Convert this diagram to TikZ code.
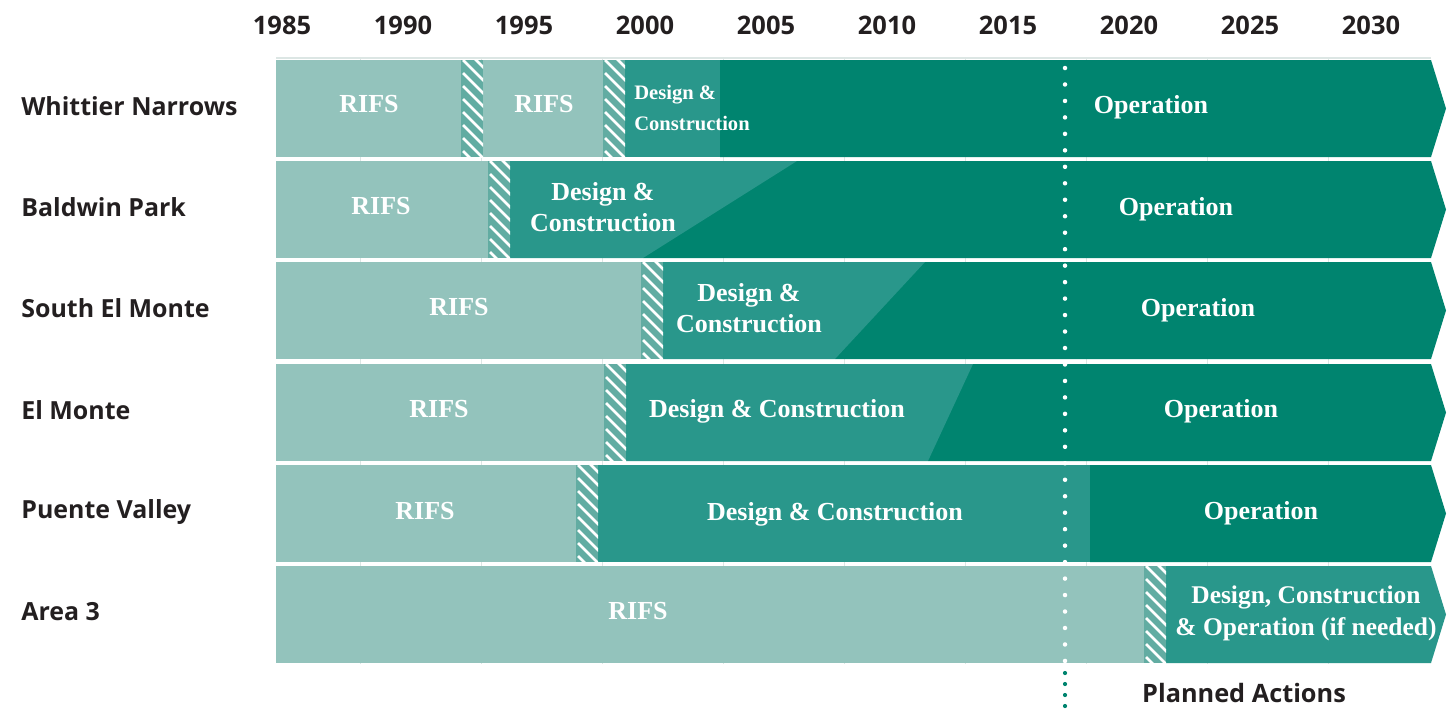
\documentclass[tikz,border=0pt]{standalone}
\usepackage{fontspec}
\setmainfont{Liberation Serif}
\newfontfamily\headfont{Open Sans}
\usepackage{xcolor}
\usetikzlibrary{positioning, calc}

\definecolor{rifsgreen}{HTML}{93C3BC}
\definecolor{buildgreen}{HTML}{29978B}
\definecolor{opgreen}{HTML}{00846F}
\definecolor{hatchgreen}{HTML}{62ACA2}
\definecolor{labelgray}{HTML}{231F20}
\definecolor{gridgray}{HTML}{DCE6E4}

% striped gap between two phases: x, top of row
\newcommand{\hatchcol}[2]{%
  \begin{scope}
    \clip (#1,#2) rectangle ++(22,97);
    \fill[hatchgreen] (#1,#2) rectangle ++(22,97);
    \foreach \s in {-26,-13,...,104}
      \draw[white, line width=1.5pt] (#1+2,#2+\s) -- ++(30,30);
  \end{scope}}

% bar that ends in an arrow head: colour, x start, top of row
\newcommand{\arrowbar}[3]{%
  \fill[#1] (#2,#3) -- (1431,#3) -- (1446,#3+48.5) -- (1431,#3+97) -- (#2,#3+97) -- cycle;}

\begin{document}
\begin{tikzpicture}[x=0.02cm,y=-0.02cm,
                    every node/.style={inner sep=0pt}]
  \tikzstyle{rowlabel}=[anchor=west,text=labelgray,font=\headfont\bfseries\fontsize{14.2}{17}\selectfont]
  \tikzstyle{yearlabel}=[text=labelgray,font=\headfont\bfseries\fontsize{14.5}{17}\selectfont]
  \tikzstyle{bartext}=[text=white,align=center,font=\bfseries\fontsize{14.8}{17.8}\selectfont]
  \tikzstyle{smalltext}=[text=white,align=left,anchor=west,font=\bfseries\fontsize{11.7}{17.6}\selectfont]

  \useasboundingbox (0,0) rectangle (1453,708);

  % grid behind the bars
  \foreach \g in {0,...,8}
    \draw[gridgray, line width=0.5pt] (360+121*\g,57) -- (360+121*\g,664);
  \draw[gridgray, line width=0.8pt] (276,58) -- (1431,58);

  % years
  \foreach \yr [count=\i from 0] in {1985,1990,...,2030}
    \node[yearlabel] (y\yr) at (282+121*\i,25) {\yr};

  % Whittier Narrows
  \arrowbar{opgreen}{720}{60}
  \fill[buildgreen] (625,60) rectangle (720,157);
  \fill[rifsgreen] (276,60) rectangle (625,157);
  \hatchcol{461}{60}
  \hatchcol{603}{60}
  \node[rowlabel] (wn) at (21,106) {Whittier Narrows};
  \node[bartext] (wn-rifs1) at (369,104) {RIFS};
  \node[bartext] (wn-rifs2) at (544,104) {RIFS};
  \node[smalltext] (wn-dc) at (634,108) {Design \&\\Construction};
  \node[bartext] (wn-op) at (1151,107) {Operation};

  % Baldwin Park
  \arrowbar{opgreen}{643}{161}
  \fill[buildgreen] (510,161) -- (797,161) -- (643,258) -- (510,258) -- cycle;
  \fill[rifsgreen] (276,161) rectangle (510,258);
  \hatchcol{488}{161}
  \node[rowlabel] (bp) at (21,207) {Baldwin Park};
  \node[bartext] (bp-rifs) at (381,206) {RIFS};
  \node[bartext] (bp-dc) at (603,207) {Design \&\\Construction};
  \node[bartext] (bp-op) at (1176,209) {Operation};

  % South El Monte
  \arrowbar{opgreen}{835}{262}
  \fill[buildgreen] (663,262) -- (925,262) -- (835,359) -- (663,359) -- cycle;
  \fill[rifsgreen] (276,262) rectangle (663,359);
  \hatchcol{641}{262}
  \node[rowlabel] (sem) at (21,308) {South El Monte};
  \node[bartext] (sem-rifs) at (459,307) {RIFS};
  \node[bartext] (sem-dc) at (749,308) {Design \&\\Construction};
  \node[bartext] (sem-op) at (1198,310) {Operation};

  % El Monte
  \arrowbar{opgreen}{928}{364}
  \fill[buildgreen] (626,364) -- (973,364) -- (928,461) -- (626,461) -- cycle;
  \fill[rifsgreen] (276,364) rectangle (626,461);
  \hatchcol{604}{364}
  \node[rowlabel] (em) at (21,410) {El Monte};
  \node[bartext] (em-rifs) at (439,409) {RIFS};
  \node[bartext] (em-dc) at (777,411) {Design \& Construction};
  \node[bartext] (em-op) at (1221,411) {Operation};

  % Puente Valley
  \arrowbar{opgreen}{1090}{465}
  \fill[buildgreen] (598,465) rectangle (1090,562);
  \fill[rifsgreen] (276,465) rectangle (598,562);
  \hatchcol{576}{465}
  \node[rowlabel] (pv) at (21,512) {Puente Valley};
  \node[bartext] (pv-rifs) at (425,511) {RIFS};
  \node[bartext] (pv-dc) at (835,514) {Design \& Construction};
  \node[bartext] (pv-op) at (1261,513) {Operation};

  % Area 3
  \arrowbar{buildgreen}{1166}{566}
  \fill[rifsgreen] (276,566) rectangle (1166,663);
  \hatchcol{1144}{566}
  \node[rowlabel] (a3) at (21,612) {Area 3};
  \node[bartext] (a3-rifs) at (638,611) {RIFS};
  \node[bartext, font=\bfseries\fontsize{14.5}{18.2}\selectfont] (a3-dco) at (1306,613) {Design, Construction\\\& Operation (if needed)};

  % today line
  \coordinate (now) at (1065,68);
  \foreach \k in {0,...,36}
    \fill[white] ($(now)+(0,16.47*\k)$) circle (0.045cm);
  \foreach \k in {0,...,3}
    \fill[opgreen] (1065,673+11*\k) circle (0.042cm);
  \node[rowlabel, anchor=center, font=\headfont\bfseries\fontsize{14.4}{17}\selectfont] (planned) at (1244,693) {Planned Actions};
\end{tikzpicture}
\end{document}
